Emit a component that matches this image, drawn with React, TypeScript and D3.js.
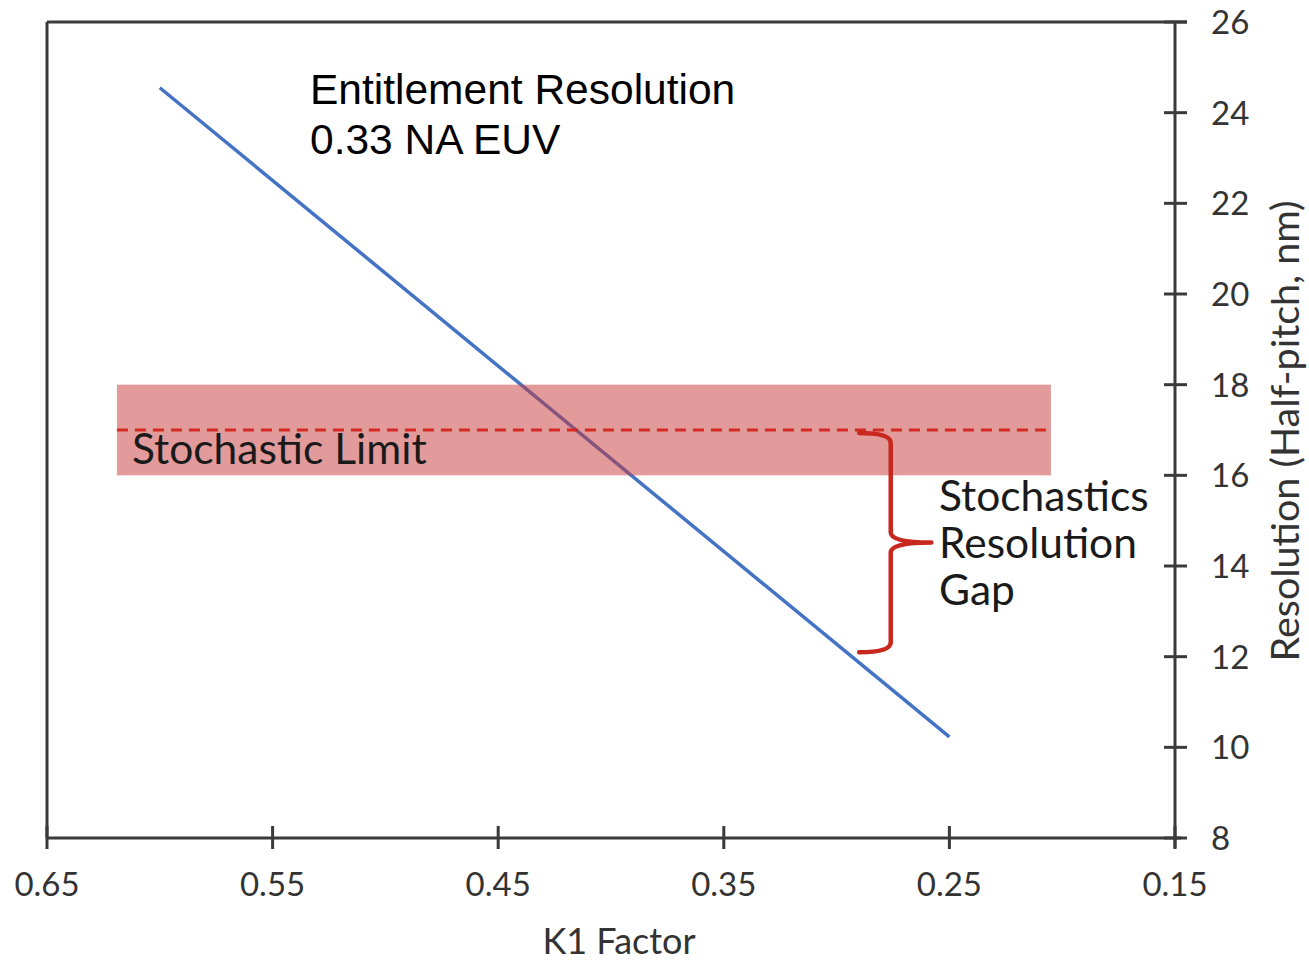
import React from "react";
import * as d3 from "d3";

// K1 factor vs. half-pitch resolution for 0.33 NA EUV
const k1Values = [0.6, 0.25];
const resolutionValues = [24.55, 10.23];

const xTicks = [0.65, 0.55, 0.45, 0.35, 0.25, 0.15];
const yTicks = [8, 10, 12, 14, 16, 18, 20, 22, 24, 26];

// Stochastic limit band and its centre line
const bandK1 = [0.619, 0.205];
const bandResolution = [16, 18];
const stochasticLimit = 17;

// Brace spanning the gap between the limit and the line
const braceK1 = [0.29, 0.276, 0.258];
const braceResolution = [17, 12.1];

const gapLabel = ["Stochastics", "Resolution", "Gap"];

const W = 1309;
const H = 964;
const left = 47;
const right = 1175;
const top = 22;
const bottom = 838;

const sideFont = "Lato, 'Open Sans', sans-serif";

export default function App() {
  const x = d3.scaleLinear().domain([0.65, 0.15]).range([left, right]);
  const y = d3.scaleLinear().domain([8, 26]).range([bottom, top]);

  const line = d3
    .line<number>()
    .x((_, i) => x(k1Values[i]))
    .y((d) => y(d));

  const bx0 = x(braceK1[0]);
  const bx1 = x(braceK1[1]);
  const bx2 = x(braceK1[2]);
  const by0 = y(braceResolution[0]) + 3;
  const by1 = y(braceResolution[1]);
  const bym = (by0 + by1) / 2;
  const r = 10;
  const bracePath = d3.path();
  bracePath.moveTo(bx0, by0);
  bracePath.quadraticCurveTo(bx1, by0, bx1, by0 + r);
  bracePath.lineTo(bx1, bym - r);
  bracePath.quadraticCurveTo(bx1, bym, bx2, bym);
  bracePath.moveTo(bx2, bym);
  bracePath.quadraticCurveTo(bx1, bym, bx1, bym + r);
  bracePath.lineTo(bx1, by1 - r);
  bracePath.quadraticCurveTo(bx1, by1, bx0, by1);

  const axisColor = "#3a3a3a";

  return (
    <svg
      width={W}
      height={H}
      style={{ position: "absolute", left: 0, top: 0, background: "#fff" }}
    >
      {/* frame */}
      <line x1={left} y1={top} x2={right + 12} y2={top} stroke={axisColor} strokeWidth={3} />
      <line x1={left} y1={top} x2={left} y2={bottom} stroke={axisColor} strokeWidth={3} />
      <line x1={left} y1={bottom} x2={right + 6} y2={bottom} stroke={axisColor} strokeWidth={3} />
      <line x1={right} y1={top} x2={right} y2={bottom + 10} stroke={axisColor} strokeWidth={3} />

      {/* x axis ticks */}
      {xTicks.map((t) => (
        <g key={"x" + t}>
          <line x1={x(t)} y1={bottom - 12} x2={x(t)} y2={bottom + 11} stroke={axisColor} strokeWidth={3} />
          <text
            x={x(t)}
            y={896}
            textAnchor="middle"
            fontFamily={sideFont}
            fontSize={33}
            fill="#333"
          >
            {t.toFixed(2)}
          </text>
        </g>
      ))}

      {/* y axis ticks */}
      {yTicks.map((t) => (
        <g key={"y" + t}>
          <line x1={right - 11} y1={y(t)} x2={right + 12} y2={y(t)} stroke={axisColor} strokeWidth={3} />
          <text
            x={1211}
            y={y(t) + 12}
            textAnchor="start"
            fontFamily={sideFont}
            fontSize={33}
            fill="#333"
          >
            {t}
          </text>
        </g>
      ))}

      {/* axis titles */}
      <text x={619} y={954} textAnchor="middle" fontFamily={sideFont} fontSize={36} fill="#333">
        K1 Factor
      </text>
      <text
        transform={`translate(1299, ${431}) rotate(-90)`}
        textAnchor="middle"
        fontFamily={sideFont}
        fontSize={39.5}
        fill="#333"
      >
        Resolution (Half-pitch, nm)
      </text>

      {/* resolution line */}
      <path d={line(resolutionValues) || ""} fill="none" stroke="#4472c4" strokeWidth={3.5} />

      {/* stochastic band */}
      <rect
        x={x(bandK1[0])}
        y={y(bandResolution[1])}
        width={x(bandK1[1]) - x(bandK1[0])}
        height={y(bandResolution[0]) - y(bandResolution[1])}
        fill="rgb(200,53,53)"
        fillOpacity={0.5}
      />
      <line
        x1={x(bandK1[0])}
        x2={x(bandK1[1])}
        y1={y(stochasticLimit)}
        y2={y(stochasticLimit)}
        stroke="#d42a22"
        strokeWidth={3}
        strokeDasharray="11 7"
      />
      <text x={132} y={464} fontFamily={sideFont} fontSize={42.5} fill="#1a1a1a">
        Stochastic Limit
      </text>

      {/* brace */}
      <path d={bracePath.toString()} fill="none" stroke="#c8281e" strokeWidth={4.5} strokeLinecap="round" />
      {gapLabel.map((s, i) => (
        <text key={s} x={939} y={511 + i * 47} fontFamily={sideFont} fontSize={42.5} fill="#1a1a1a">
          {s}
        </text>
      ))}

      {/* title */}
      <text x={310} y={104} fontFamily="'Liberation Sans', Arial, sans-serif" fontSize={42.5} fill="#000">
        Entitlement Resolution
      </text>
      <text x={310} y={154} fontFamily="'Liberation Sans', Arial, sans-serif" fontSize={42.5} fill="#000">
        0.33 NA EUV
      </text>
    </svg>
  );
}
